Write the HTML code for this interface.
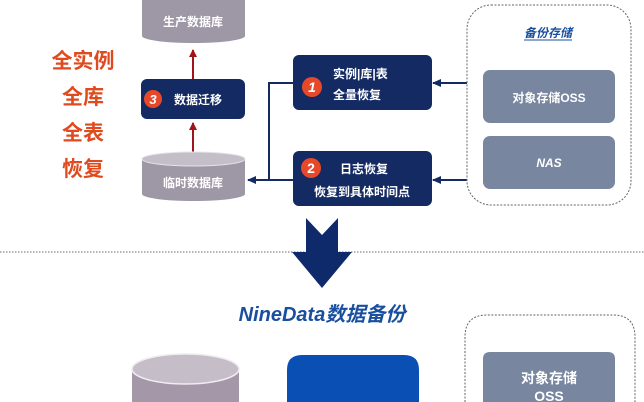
<!DOCTYPE html>
<html><head><meta charset="utf-8"><style>
html,body{margin:0;padding:0;background:#fff;width:644px;height:402px;overflow:hidden}
svg{display:block}
text{font-family:"Liberation Sans","Noto Sans CJK SC",sans-serif;font-weight:bold}
</style></head><body>
<svg width="644" height="402" viewBox="0 0 644 402" xmlns="http://www.w3.org/2000/svg">
<defs>
<marker id="ar" markerWidth="8" markerHeight="8" refX="7" refY="4" orient="auto" markerUnits="userSpaceOnUse"><path d="M0,0 L8,4 L0,8 Z" fill="#a0141c"/></marker>
<marker id="an" markerWidth="9" markerHeight="8" refX="8" refY="4" orient="auto" markerUnits="userSpaceOnUse"><path d="M0,0 L9,4 L0,8 Z" fill="#132a63"/></marker>
</defs>
<path d="M142,0 L142,36 A51.5,7 0 0 0 245,36 L245,0 Z" fill="#9d97a6"/>
<text x="193" y="26" font-size="12" fill="#fff" text-anchor="middle">生产数据库</text>
<line x1="193" y1="79" x2="193" y2="50" stroke="#a0141c" stroke-width="2" marker-end="url(#ar)"/>
<line x1="193" y1="152" x2="193" y2="123" stroke="#a0141c" stroke-width="2" marker-end="url(#ar)"/>
<rect x="141" y="79" width="104" height="40" rx="6" fill="#132a63"/>
<circle cx="153" cy="99" r="9" fill="#e8482a"/>
<text x="153" y="104" font-size="13" fill="#fff" text-anchor="middle" font-style="italic">3</text>
<text x="198" y="104" font-size="12" fill="#fff" text-anchor="middle">数据迁移</text>
<path d="M142,159 L142,194 A51.5,7 0 0 0 245,194 L245,159 Z" fill="#9d97a6"/>
<ellipse cx="193.5" cy="159" rx="51.5" ry="7" fill="#c4bec8" stroke="#e6e2e8" stroke-width="1"/>
<text x="193" y="187" font-size="12" fill="#fff" text-anchor="middle">临时数据库</text>
<g font-size="21" fill="#e04a1f" text-anchor="middle">
<text x="83" y="68">全实例</text>
<text x="83" y="104">全库</text>
<text x="83" y="140">全表</text>
<text x="83" y="176">恢复</text>
</g>
<polyline points="293,83 269,83 269,180" fill="none" stroke="#132a63" stroke-width="2"/>
<line x1="293" y1="180" x2="248" y2="180" stroke="#132a63" stroke-width="2" marker-end="url(#an)"/>
<line x1="467" y1="83" x2="433" y2="83" stroke="#132a63" stroke-width="2" marker-end="url(#an)"/>
<line x1="467" y1="180" x2="433" y2="180" stroke="#132a63" stroke-width="2" marker-end="url(#an)"/>
<rect x="293" y="55" width="139" height="55" rx="6" fill="#132a63"/>
<circle cx="312" cy="87" r="10" fill="#e8482a"/>
<text x="312" y="92" font-size="14" fill="#fff" text-anchor="middle" font-style="italic">1</text>
<text x="333" y="78" font-size="12" fill="#fff">实例|库|表</text>
<text x="333" y="99" font-size="12" fill="#fff">全量恢复</text>
<rect x="293" y="151" width="139" height="55" rx="6" fill="#132a63"/>
<circle cx="311" cy="168" r="10" fill="#e8482a"/>
<text x="311" y="173" font-size="14" fill="#fff" text-anchor="middle">2</text>
<text x="364" y="173" font-size="12" fill="#fff" text-anchor="middle">日志恢复</text>
<text x="362" y="196" font-size="12" fill="#fff" text-anchor="middle">恢复到具体时间点</text>
<rect x="467" y="5" width="164" height="200" rx="24" fill="#fff" stroke="#666" stroke-width="1" stroke-dasharray="2,1.5"/>
<text x="548" y="37" font-size="12" fill="#1a4fa0" text-anchor="middle" font-style="italic">备份存储</text>
<line x1="524" y1="40" x2="572" y2="40" stroke="#1a4fa0" stroke-width="1"/>
<rect x="483" y="70" width="132" height="53" rx="7" fill="#7986a0"/>
<text x="549" y="102" font-size="12" fill="#fff" text-anchor="middle">对象存储OSS</text>
<rect x="483" y="136" width="132" height="53" rx="7" fill="#7986a0"/>
<text x="549" y="167" font-size="12" fill="#fff" text-anchor="middle" font-style="italic">NAS</text>
<line x1="0" y1="252" x2="644" y2="252" stroke="#888" stroke-width="1.2" stroke-dasharray="1.5,1.5"/>
<path d="M306,218 L322,235 L338,218 L338,252 L352,252 L322,288 L292,252 L306,252 Z" fill="#0f2a6b"/>
<text x="322" y="321" font-size="20" fill="#1a4fa0" text-anchor="middle" font-style="italic">NineData数据备份</text>
<path d="M132,369 L132,402 L239,402 L239,369 Z" fill="#a397a8"/>
<ellipse cx="185.5" cy="369" rx="53.5" ry="15" fill="#c5bec8" stroke="#f0ecf0" stroke-width="1.5"/>
<path d="M287,402 L287,370 Q287,355 302,355 L404,355 Q419,355 419,370 L419,402 Z" fill="#0a50b4"/>
<path d="M465,402 L465,337 Q465,315 487,315 L613,315 Q635,315 635,337 L635,402" fill="#fff" stroke="#666" stroke-width="1" stroke-dasharray="2,1.5"/>
<path d="M483,402 L483,359 Q483,352 490,352 L608,352 Q615,352 615,359 L615,402 Z" fill="#7986a0"/>
<text x="549" y="383" font-size="14" fill="#fff" text-anchor="middle">对象存储</text>
<text x="549" y="401" font-size="14" fill="#fff" text-anchor="middle">OSS</text>
</svg>
</body></html>
